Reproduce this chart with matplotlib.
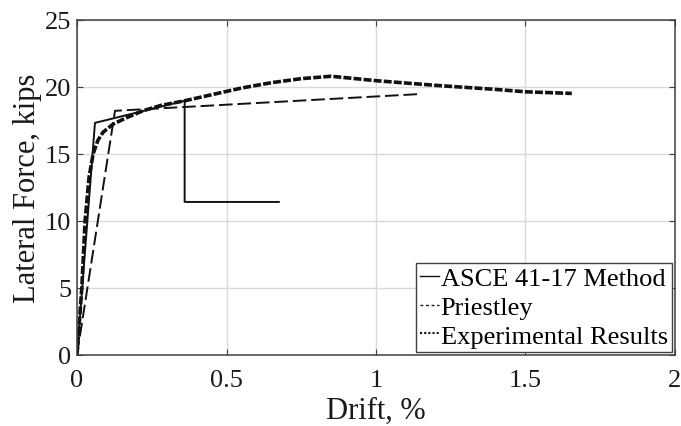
import matplotlib
matplotlib.use("Agg")
import matplotlib.pyplot as plt

asce_x = [0.0, 0.06, 0.36, 0.36, 0.675]
asce_y = [0.0, 17.3, 18.95, 11.4, 11.4]

pri_x = [0.0, 0.127, 1.145]
pri_y = [0.0, 18.2, 19.45]

exp_x = [0.0, 0.008, 0.016, 0.027, 0.04, 0.054, 0.07, 0.087, 0.12, 0.167, 0.22, 0.28,
         0.36, 0.45, 0.55, 0.65, 0.75, 0.85, 1.0, 1.2, 1.4, 1.5, 1.655]
exp_y = [0.0, 2.5, 5.0, 10.0, 13.2, 15.0, 16.0, 16.6, 17.2, 17.7, 18.2, 18.6,
         18.95, 19.4, 19.9, 20.3, 20.6, 20.78, 20.45, 20.1, 19.8, 19.62, 19.5]

x_ticks = [0, 0.5, 1, 1.5, 2]
x_labels = ["0", "0.5", "1", "1.5", "2"]
y_ticks = [0, 5, 10, 15, 20, 25]

plt.rcParams['font.family'] = ['Liberation Serif', 'DejaVu Serif']

fig = plt.figure(figsize=(6.81, 4.27), dpi=100)
ax = fig.add_axes([0.1131, 0.167, 0.878, 0.7845])

ax.plot(asce_x, asce_y, color='#111111', lw=1.4, label='ASCE 41-17 Method')
ax.plot(pri_x, pri_y, color='#111111', lw=1.4, ls=(0, (7, 2.5)), label='Priestley')
ax.plot(exp_x, exp_y, color='#111111', lw=2.6, ls=(0, (2.2, 0.6)), label='Experimental Results')

ax.set_xlim(0, 2)
ax.set_ylim(0, 25)
ax.set_xticks(x_ticks)
ax.set_xticklabels(x_labels)
ax.set_yticks(y_ticks)
ax.grid(True, color='#d9d9d9', lw=1.0)
ax.set_axisbelow(True)
ax.tick_params(direction='in', top=True, right=True, labelsize=19, colors='#404040',
               labelcolor='#1a1a1a', length=4)
ax.tick_params(axis='x', pad=10)
ax.tick_params(axis='y', pad=4)
for s in ax.spines.values():
    s.set_color('#404040')
    s.set_linewidth(1.1)

ax.set_xlabel('Drift, %', fontsize=22, color='#1a1a1a', labelpad=4)
ax.set_ylabel('Lateral Force, kips', fontsize=22, color='#1a1a1a', labelpad=2)

leg = ax.legend(loc='lower right', fontsize=19, handlelength=0.75, handletextpad=0.05,
                borderpad=0.15, labelspacing=0.2, fancybox=False, framealpha=1,
                edgecolor='#404040', borderaxespad=0.12)
leg.get_frame().set_linewidth(1.0)
for h in leg.get_lines():
    h.set_linewidth(1.0)
leg.get_lines()[1].set_linestyle((0, (2, 2)))
leg.get_lines()[2].set_linestyle((0, (1, 1)))
leg.get_lines()[2].set_linewidth(1.5)

fig.savefig('out.png', dpi=100)
